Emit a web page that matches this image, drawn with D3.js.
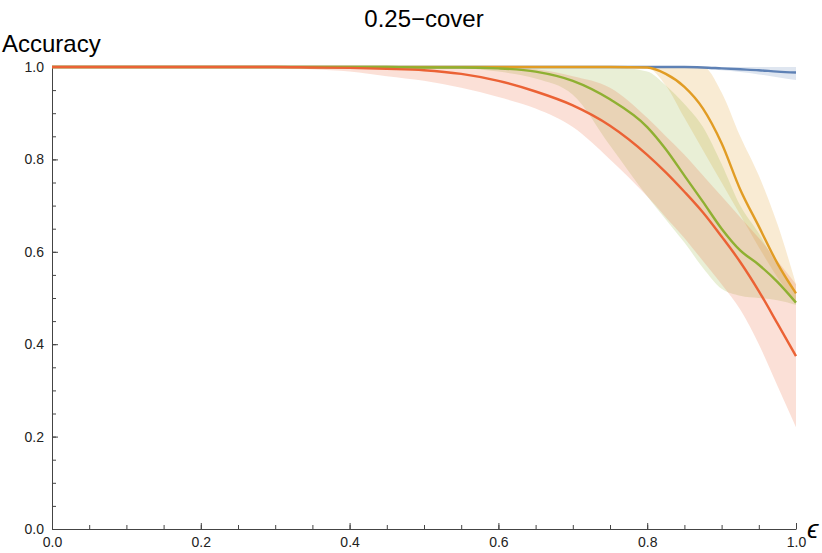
<!DOCTYPE html>
<html>
<head>
<meta charset="utf-8">
<script src="https://cdn.jsdelivr.net/npm/d3@7"></script>
<style>
  body { margin: 0; background: #fff; }
  svg { font-family: "Liberation Sans", Arial, sans-serif; }
</style>
</head>
<body>
<div id="chart"></div>
<script>
const width = 822;
const height = 553;
const plotLeft = 52, plotRight = 796, plotTop = 67, plotBottom = 529;

// shared x grid (epsilon)
const eps = [0, 0.1, 0.2, 0.3, 0.35, 0.4, 0.45, 0.5, 0.55, 0.6, 0.65, 0.7, 0.75, 0.8, 0.825, 0.85, 0.875, 0.9, 0.925, 0.95, 0.975, 1.0];

const blueMean = [1, 1, 1, 1, 1, 1, 1, 1, 1, 1, 1, 1, 1, 1, 1, 1, 0.999, 0.997, 0.995, 0.993, 0.99, 0.988];
const blueLo   = [1, 1, 1, 1, 1, 1, 1, 1, 1, 1, 1, 1, 1, 1, 0.9995, 0.999, 0.996, 0.993, 0.989, 0.984, 0.978, 0.972];
const blueHi   = [1, 1, 1, 1, 1, 1, 1, 1, 1, 1, 1, 1, 1, 1, 1, 1, 1, 1, 1, 1, 1, 1];

const orangeMean = [1, 1, 1, 1, 1, 1, 1, 1, 1, 1, 1, 1, 1, 0.999, 0.985, 0.957, 0.91, 0.835, 0.735, 0.655, 0.575, 0.51];
const orangeLo   = [1, 1, 1, 1, 1, 1, 1, 1, 1, 1, 1, 1, 1, 0.998, 0.96, 0.89, 0.82, 0.75, 0.68, 0.61, 0.545, 0.49];
const orangeHi   = [1, 1, 1, 1, 1, 1, 1, 1, 1, 1, 1, 1, 1, 1, 1, 1, 1, 0.945, 0.85, 0.765, 0.66, 0.53];

const greenMean = [1, 1, 1, 1, 1, 1, 1, 0.999, 0.999, 0.997, 0.99, 0.97, 0.93, 0.87, 0.822, 0.765, 0.708, 0.65, 0.603, 0.572, 0.535, 0.49];
const greenLo   = [1, 1, 1, 1, 1, 1, 1, 1, 0.998, 0.99, 0.975, 0.94, 0.83, 0.72, 0.67, 0.62, 0.565, 0.52, 0.505, 0.50, 0.495, 0.485];
const greenHi   = [1, 1, 1, 1, 1, 1, 1, 1, 1, 1, 1, 1, 1, 0.99, 0.96, 0.92, 0.87, 0.79, 0.70, 0.64, 0.57, 0.51];

const redMean = [1, 1, 1, 1, 0.999, 0.998, 0.996, 0.993, 0.985, 0.97, 0.947, 0.917, 0.873, 0.81, 0.772, 0.73, 0.685, 0.633, 0.578, 0.515, 0.445, 0.374];
const redLo   = [1, 1, 1, 0.999, 0.995, 0.99, 0.98, 0.97, 0.955, 0.935, 0.91, 0.87, 0.80, 0.72, 0.675, 0.63, 0.58, 0.53, 0.475, 0.40, 0.31, 0.22];
const redHi   = [1, 1, 1, 1, 1, 1, 1, 1, 1, 0.999, 0.995, 0.98, 0.955, 0.89, 0.85, 0.81, 0.765, 0.72, 0.675, 0.63, 0.58, 0.53];

const xMajor = [0, 0.2, 0.4, 0.6, 0.8, 1.0];
const yMajor = [0, 0.2, 0.4, 0.6, 0.8, 1.0];
const minorTicks = d3.range(0, 21).map(i => i * 0.05);

const series = [
  { color: "#5E81B5", mean: blueMean, lo: blueLo, hi: blueHi },
  { color: "#E19C24", mean: orangeMean, lo: orangeLo, hi: orangeHi },
  { color: "#8FB032", mean: greenMean, lo: greenLo, hi: greenHi },
  { color: "#EB6235", mean: redMean, lo: redLo, hi: redHi }
];

let svg = d3.select("#chart").append("svg")
    .attr("width", width)
    .attr("height", height);

let xScale = d3.scaleLinear().domain([0, 1]).range([plotLeft, plotRight]);
let yScale = d3.scaleLinear().domain([0, 1]).range([plotBottom, plotTop]);

let area = d3.area()
    .x((d, i) => xScale(eps[i]))
    .y0(d => yScale(d[0]))
    .y1(d => yScale(d[1]))
    .curve(d3.curveMonotoneX);

let line = d3.line()
    .x((d, i) => xScale(eps[i]))
    .y(d => yScale(d))
    .curve(d3.curveMonotoneX);

// bands first
svg.append("g").selectAll("path")
    .data(series)
    .enter()
    .append("path")
    .attr("d", s => area(s.lo.map((v, i) => [v, s.hi[i]])))
    .attr("fill", s => s.color)
    .attr("fill-opacity", 0.2)
    .attr("stroke", "none");

// minor ticks
let axisColor = "#444";
svg.append("g")
    .attr("transform", `translate(0,${plotBottom})`)
    .call(d3.axisBottom(xScale).tickValues(minorTicks).tickSize(-4).tickFormat("").tickSizeOuter(0))
    .call(g => g.select(".domain").remove());
svg.append("g")
    .attr("transform", `translate(${plotLeft},0)`)
    .call(d3.axisLeft(yScale).tickValues(minorTicks).tickSize(-4).tickFormat("").tickSizeOuter(0))
    .call(g => g.select(".domain").remove());

// major axes
let xAxis = svg.append("g")
    .attr("transform", `translate(0,${plotBottom})`)
    .call(d3.axisBottom(xScale).tickValues(xMajor).tickSize(-6).tickSizeOuter(0).tickPadding(8).tickFormat(d3.format(".1f")));
let yAxis = svg.append("g")
    .attr("transform", `translate(${plotLeft},0)`)
    .call(d3.axisLeft(yScale).tickValues(yMajor).tickSize(-6).tickSizeOuter(0).tickPadding(8).tickFormat(d3.format(".1f")));

svg.selectAll(".domain, .tick line").attr("stroke", axisColor);
svg.selectAll(".tick text").attr("fill", "#222").style("font-size", "14px").style("font-family", "Liberation Sans, Arial, sans-serif");

// lines
svg.append("g").selectAll("path")
    .data(series)
    .enter()
    .append("path")
    .attr("d", s => line(s.mean))
    .attr("fill", "none")
    .attr("stroke", s => s.color)
    .attr("stroke-width", 2.4)
    .attr("stroke-linejoin", "round");

// labels
svg.append("text")
    .attr("x", (plotLeft + plotRight) / 2)
    .attr("y", 27)
    .attr("text-anchor", "middle")
    .style("font-size", "24px")
    .attr("fill", "#000")
    .text("0.25\u2212cover");

svg.append("text")
    .attr("x", 2)
    .attr("y", 52)
    .style("font-size", "24px")
    .attr("fill", "#000")
    .text("Accuracy");

svg.append("text")
    .attr("x", 807)
    .attr("y", 538)
    .style("font-size", "26px")
    .style("font-style", "italic")
    .attr("fill", "#000")
    .text("\u03F5");
</script>
</body>
</html>
